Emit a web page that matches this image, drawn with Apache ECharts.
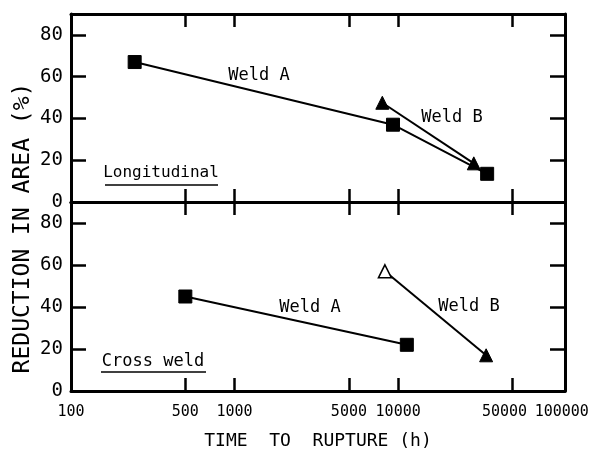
<!DOCTYPE html>
<html>
<head>
<meta charset="utf-8">
<script src="https://cdn.jsdelivr.net/npm/echarts@6/dist/echarts.min.js"></script>
<style>
  html, body { margin: 0; padding: 0; background: #fff; }
  #chart { width: 589px; height: 452px; }
</style>
</head>
<body>
<div id="chart"></div>
<script>
// tick values (hours / %)
const xTicks = [500, 1000, 5000, 10000, 50000]
const xLabels = [100, 500, 1000, 5000, 10000, 50000, 100000]
const yTicks = [0, 20, 40, 60, 80]
const yRightTicks = [20, 40, 60, 80]

// Longitudinal
const longATime = [245, 9300, 35000]
const longARA = [67, 37, 13.5]
const longBTime = [8000, 29000]
const longBRA = [47.5, 18.5]

// Cross weld
const crossATime = [500, 11300]
const crossARA = [45, 22]
const crossBTime = [8300, 34500]
const crossBRA = [57, 17]

const MONO = 'DejaVu Sans Mono'
const lg = v => Math.log10(v)
const pts = (t, ra) => t.map((v, i) => [lg(v), ra[i]])

const chart = echarts.init(document.getElementById('chart'))

const frame = { show: true, onZero: false, lineStyle: { color: '#000', width: 3 } }
const xMin = 2
const xMax = 5.02

function xAxis(grid, position, withLabels) {
  return {
    type: 'value', gridIndex: grid, position, min: xMin, max: xMax,
    axisLine: frame,
    axisTick: { show: true, inside: true, length: 13, lineStyle: { color: '#000', width: 2.5 }, customValues: xTicks.map(lg) },
    axisLabel: withLabels ? {
      show: true, customValues: xLabels.map(lg), color: '#000', fontFamily: MONO, fontSize: 15, margin: 14,
      showMinLabel: true, showMaxLabel: true, hideOverlap: false,
      formatter: v => {
        const n = Math.round(Math.pow(10, v))
        // the 50000 label sits a little left of its tick, as in the original
        return n === 50000 ? '{s|' + n + '}' : String(n)
      },
      rich: { s: { fontFamily: MONO, fontSize: 15, color: '#000', padding: [0, 16, 0, 0] } }
    } : { show: false },
    splitLine: { show: false }
  }
}

function yAxis(grid, position, withLabels) {
  return {
    type: 'value', gridIndex: grid, position, min: 0, max: 90,
    axisLine: frame,
    axisTick: { show: true, inside: true, length: 15, lineStyle: { color: '#000', width: 2.5 }, customValues: withLabels ? yTicks : yRightTicks },
    axisLabel: withLabels ? { show: true, customValues: yTicks, color: '#000', fontFamily: MONO, fontSize: 19, margin: 8 } : { show: false },
    splitLine: { show: false }
  }
}

const square = { symbol: 'rect', symbolSize: 13 }
const tri = { symbol: 'triangle', symbolSize: 13 }
function line(name, x, y, data, sym) {
  return {
    name, type: 'line', xAxisIndex: x, yAxisIndex: y, data,
    symbol: sym.symbol, symbolSize: sym.symbolSize,
    lineStyle: { color: '#000', width: 2 },
    itemStyle: { color: '#000', borderColor: '#000', borderWidth: 1 },
    animation: false, z: 5
  }
}

const crossBData = pts(crossBTime, crossBRA)
crossBData[0] = { value: crossBData[0], itemStyle: { color: '#fff', borderColor: '#000', borderWidth: 1.5 } }

const txt = (text, x, y, size) => ({
  type: 'text', x, y,
  style: { text, fill: '#000', fontFamily: MONO, fontSize: size, align: 'center', verticalAlign: 'middle' }
})

chart.setOption({
  backgroundColor: '#fff',
  grid: [
    { left: 71, right: 24, top: 14, height: 188, outerBoundsMode: 'none', containLabel: false },
    { left: 71, right: 24, top: 202, height: 189, outerBoundsMode: 'none', containLabel: false }
  ],
  xAxis: [
    xAxis(0, 'bottom', false),
    xAxis(0, 'top', false),
    xAxis(1, 'top', false),
    xAxis(1, 'bottom', true)
  ],
  yAxis: [
    yAxis(0, 'left', true),
    yAxis(0, 'right', false),
    yAxis(1, 'left', true),
    yAxis(1, 'right', false)
  ],
  series: [
    line('Long Weld A', 0, 0, pts(longATime, longARA), square),
    line('Long Weld B', 0, 0, pts(longBTime, longBRA), tri),
    line('Cross Weld A', 3, 2, pts(crossATime, crossARA), square),
    line('Cross Weld B', 3, 2, crossBData, tri)
  ],
  graphic: [
    txt('Weld A', 259, 76, 17),
    txt('Weld B', 452, 118, 17),
    txt('Weld A', 310, 308, 17),
    txt('Weld B', 469, 307, 17),
    txt('Longitudinal', 161, 173, 16),
    { type: 'line', shape: { x1: 105, y1: 185, x2: 218, y2: 185 }, style: { stroke: '#000', lineWidth: 1.5 } },
    txt('Cross weld', 153, 362, 17),
    { type: 'line', shape: { x1: 101, y1: 372, x2: 206, y2: 372 }, style: { stroke: '#000', lineWidth: 1.5 } },
    Object.assign(txt('REDUCTION IN AREA (%)', 23, 228, 23), { rotation: Math.PI / 2 }),
    txt('TIME  TO  RUPTURE (h)', 318, 441, 18)
  ]
})
</script>
</body>
</html>
